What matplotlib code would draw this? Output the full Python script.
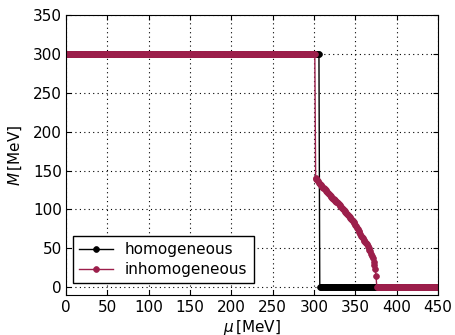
import numpy as np
import matplotlib
matplotlib.use("Agg")
import matplotlib.pyplot as plt

plt.rcParams["font.family"] = ["DejaVu Sans"]
plt.rcParams["mathtext.fontset"] = "dejavusans"
plt.rcParams["font.size"] = 11
plt.rcParams["xtick.direction"] = "in"
plt.rcParams["ytick.direction"] = "in"
plt.rcParams["xtick.top"] = True
plt.rcParams["ytick.right"] = True
plt.rcParams["xtick.major.pad"] = 3.5
plt.rcParams["ytick.major.pad"] = 3

# homogeneous solution: constant mass, first order jump to zero
M_vac = 300.0
mu_c_hom = 306
mu_hom = np.arange(0, 451, 1)
M_hom = np.where(mu_hom <= mu_c_hom, M_vac, 0.0)

# inhomogeneous solution: jumps at ~302 MeV, then continuous decrease
mu_flat = np.arange(0, 302, 1)
M_flat = np.full(len(mu_flat), M_vac)
mu_curve = np.arange(302, 376, 1)
M_curve = [140, 138.8, 137.5, 136, 134.5, 133.2, 132, 130.8, 129.5, 128.2,
           127, 125.8, 124.5, 123.2, 122, 120.8, 119.5, 118.2, 117, 116,
           115, 114, 113, 112, 111, 110, 109, 108, 107, 105.8,
           104.5, 103.2, 102, 100.8, 99.5, 98.2, 97, 95.8, 94.5, 93.2,
           92, 90.8, 89.5, 88.2, 87, 85.5, 84, 82, 80, 78.2,
           76.5, 74.5, 72.5, 70.5, 68.5, 66.5, 64.5, 62.8, 61, 59.5,
           58, 56.8, 55.5, 53.2, 51, 48.5, 46, 43.2, 40.5, 37,
           33, 28.5, 24, 15]
mu_tail = np.arange(376, 451, 1)
M_tail = np.zeros(len(mu_tail))

mu_inh = np.concatenate([mu_flat, mu_curve, mu_tail])
M_inh = np.concatenate([M_flat, M_curve, M_tail])

red = "#9c1f4b"

fig = plt.figure(figsize=(4.56, 3.35), dpi=100, facecolor="white")
ax = fig.add_axes([0.1447, 0.1194, 0.8158, 0.8358])

ax.plot(mu_hom, M_hom, "-o", color="k", lw=1, ms=4.2, mew=0.5,
        label="homogeneous")
ax.plot(mu_inh, M_inh, "-o", color=red, mec=red, lw=1, ms=4.2, mew=0.5,
        label="inhomogeneous")

ax.set_xlim(0, 450)
ax.set_ylim(-10, 350)
ax.set_xticks(np.arange(0, 451, 50))
ax.set_yticks(np.arange(0, 351, 50))
ax.grid(True, color="k", linestyle=(0, (1, 3)), linewidth=0.8)
ax.set_xlabel(r"$\mu\,$[MeV]", labelpad=2)
ax.set_ylabel(r"$M\,$[MeV]", labelpad=6)

leg = ax.legend(loc="lower left", bbox_to_anchor=(0.019, 0.043),
                borderaxespad=0, numpoints=1, fancybox=False,
                handlelength=2.2, handletextpad=0.8,
                labelspacing=0.3, borderpad=0.4, framealpha=1)
leg.get_frame().set_edgecolor("k")

fig.savefig("out.png", dpi=100, facecolor="white")
